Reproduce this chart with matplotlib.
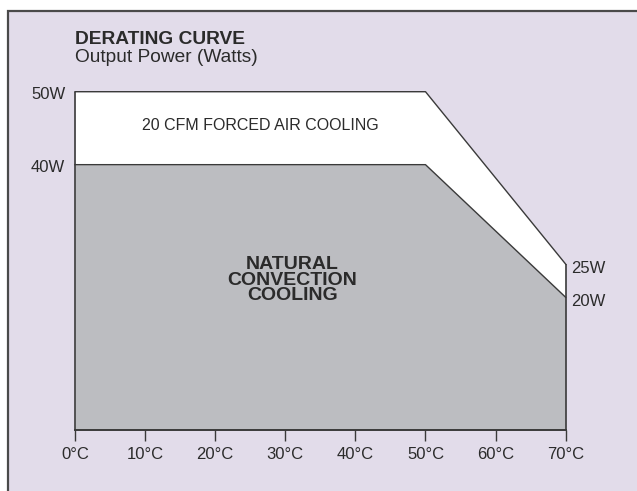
import numpy as np
import matplotlib
matplotlib.use("Agg")
import matplotlib.pyplot as plt
from matplotlib.patches import Rectangle

plt.rcParams['font.family'] = ['Liberation Sans', 'DejaVu Sans']

# data
temps = [0, 50, 70]                 # deg C
forced_air = [50, 50, 25]           # W, 20 CFM forced air
natural_conv = [40, 40, 20]         # W, natural convection
x_ticks = [0, 10, 20, 30, 40, 50, 60, 70]
x_labels = [f"{t}°C" for t in x_ticks]
left_marks = [50, 40]
right_marks = [25, 20]

bg = "#e2dcea"
grey = "#bcbdc1"
ink = "#2b2b2b"

# drawing is schematic: 40-50W band is a bit taller than the rest
def fwd(w):
    return np.interp(w, [0, 40, 50, 100], [0, 40, 51, 101])

def inv(v):
    return np.interp(v, [0, 40, 51, 101], [0, 40, 50, 100])

W, H = 637, 491
fig = plt.figure(figsize=(W / 100, H / 100), dpi=100)
fig.patch.set_facecolor("white")
fig.add_artist(Rectangle((8 / W, -0.1), 1.2, 1 - 11 / H + 0.1, transform=fig.transFigure,
                         facecolor=bg, edgecolor="#4a4a4a", linewidth=1.6, zorder=-5))

ax = fig.add_axes([75 / W, 1 - 430 / H, 490.7 / W, (430 - 91.7) / H])
ax.patch.set_visible(False)
ax.set_yscale("function", functions=(fwd, inv))
ax.set_xlim(0, 70)
ax.set_ylim(0, 50)

ax.fill_between(temps, 0, forced_air, color="white", linewidth=0)
ax.fill_between(temps, 0, natural_conv, color=grey, linewidth=0)
ax.plot(temps, forced_air, color="#3a3a3a", lw=1.0, clip_on=False)
ax.plot(temps, natural_conv, color="#3a3a3a", lw=1.0, clip_on=False)
ax.vlines([temps[0], temps[-1]], 0, [forced_air[0], forced_air[-1]], color="#3a3a3a", lw=1.2, clip_on=False)

for s in ["top", "right", "left"]:
    ax.spines[s].set_visible(False)
ax.spines["bottom"].set_color("#3a3a3a")
ax.spines["bottom"].set_linewidth(1.4)

ax.set_xticks(x_ticks)
ax.set_xticklabels(x_labels, fontsize=12, color=ink)
ax.tick_params(axis="x", direction="out", length=8, width=1.0, color="#3a3a3a", pad=4.5)
ax.set_yticks([])

for w in left_marks:
    ax.annotate(f"{w}W", (0, w), xytext=(-7, -2), textcoords="offset points",
                ha="right", va="center", fontsize=12, color=ink, annotation_clip=False)
for w in right_marks:
    ax.annotate(f"{w}W", (70, w), xytext=(4, -3), textcoords="offset points",
                ha="left", va="center", fontsize=12, color=ink, annotation_clip=False)

ax.text(26.4, 45.3, "20 CFM FORCED AIR COOLING", ha="center", va="center",
        fontsize=11.5, color=ink)
ax.text(31.0, 22.6, "NATURAL\nCONVECTION\nCOOLING", ha="center", va="center",
        fontsize=14, fontweight="bold", color=ink, linespacing=0.88)

fig.text(75 / W, 1 - 44 / H, "DERATING CURVE", fontsize=13.8, fontweight="bold",
         color=ink, va="baseline")
fig.text(75 / W, 1 - 62 / H, "Output Power (Watts)", fontsize=13.8, color=ink, va="baseline")

fig.savefig("out.png", dpi=100, facecolor=fig.get_facecolor())
